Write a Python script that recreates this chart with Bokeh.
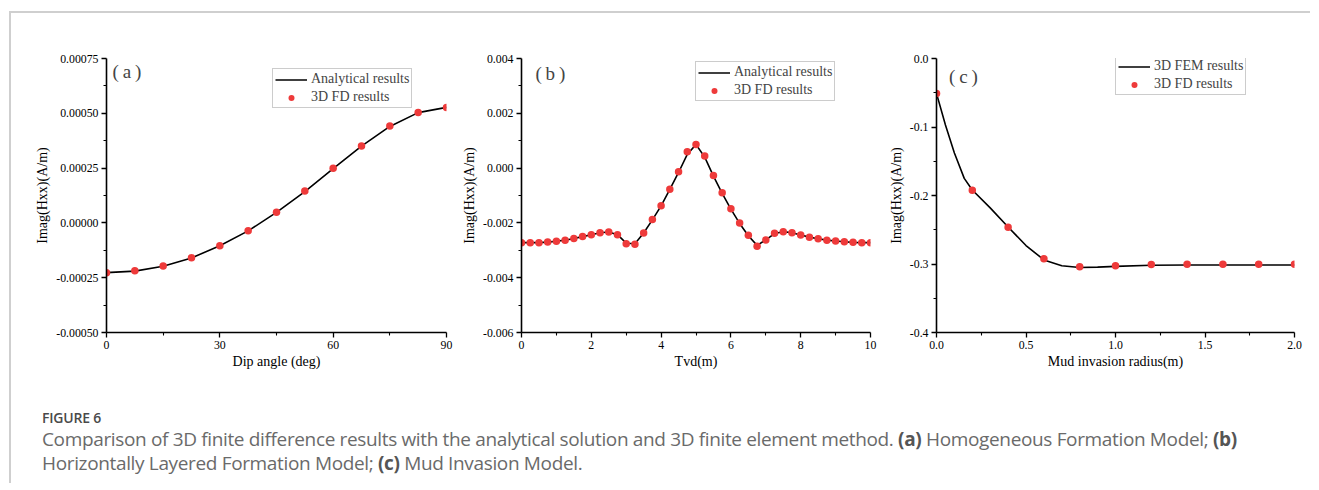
from bokeh.plotting import figure
from bokeh.layouts import row, column
from bokeh.models import (Range1d, FixedTicker, PrintfTickFormatter, Label, Legend,
                          LegendItem, Div)
from bokeh.embed import file_html
from bokeh.resources import INLINE

# ---------------- data ----------------
# (a) Homogeneous formation
dip_fd = [0, 7.5, 15, 22.5, 30, 37.5, 45, 52.5, 60, 67.5, 75, 82.5, 90]
hxx_a_fd = [-0.000227, -0.000218, -0.000197, -0.000159, -0.000104, -0.0000358,
            0.0000491, 0.000145, 0.000249, 0.000351, 0.000442, 0.000504, 0.000527]
dip_an = [0, 7.5, 15, 22.5, 30, 37.5, 45, 52.5, 60, 67.5, 75, 82.5, 90]
hxx_a_an = [-0.000227, -0.000220, -0.000198, -0.000160, -0.000104, -0.0000365,
            0.0000480, 0.000143, 0.000248, 0.000350, 0.000440, 0.000503, 0.000527]

# (b) Horizontally layered formation
tvd = [0, 0.25, 0.5, 0.75, 1.0, 1.25, 1.5, 1.75, 2.0, 2.25, 2.5, 2.75, 3.0, 3.25,
       3.5, 3.75, 4.0, 4.25, 4.5, 4.75, 5.0, 5.25, 5.5, 5.75, 6.0, 6.25, 6.5, 6.75,
       7.0, 7.25, 7.5, 7.75, 8.0, 8.25, 8.5, 8.75, 9.0, 9.25, 9.5, 9.75, 10.0]
hxx_b_fd = [-0.00272, -0.00272, -0.00272, -0.00270, -0.00267, -0.00263, -0.00257,
            -0.00250, -0.00243, -0.00236, -0.00233, -0.00243, -0.00276, -0.00278,
            -0.00237, -0.00188, -0.00137, -0.00077, -0.00013, 0.00060, 0.00086,
            0.00044, -0.00027, -0.00090, -0.00148, -0.00200, -0.00245, -0.00285,
            -0.00262, -0.00238, -0.00232, -0.00236, -0.00244, -0.00252, -0.00258,
            -0.00263, -0.00266, -0.00269, -0.00271, -0.00272, -0.00272]
hxx_b_an = [-0.00272, -0.00272, -0.00272, -0.00270, -0.00267, -0.00263, -0.00257,
            -0.00250, -0.00243, -0.00236, -0.00233, -0.00243, -0.00274, -0.00276,
            -0.00237, -0.00189, -0.00138, -0.00078, -0.00016, 0.00050, 0.00086,
            0.00040, -0.00029, -0.00092, -0.00150, -0.00202, -0.00247, -0.00282,
            -0.00262, -0.00239, -0.00232, -0.00236, -0.00244, -0.00252, -0.00258,
            -0.00263, -0.00266, -0.00269, -0.00271, -0.00272, -0.00272]

# (c) Mud invasion
radius_fd = [0.0, 0.2, 0.4, 0.6, 0.8, 1.0, 1.2, 1.4, 1.6, 1.8, 2.0]
hxx_c_fd = [-0.0510, -0.1922, -0.2464, -0.2924, -0.3039, -0.3025, -0.3007,
            -0.3002, -0.3002, -0.3002, -0.3002]
radius_fem = [0, 0.05, 0.1, 0.155, 0.2, 0.3, 0.4, 0.5, 0.6, 0.7, 0.8, 0.9, 1.0,
              1.2, 1.4, 1.6, 1.8, 2.0]
hxx_c_fem = [-0.051, -0.097, -0.138, -0.175, -0.192, -0.218, -0.246, -0.273,
             -0.294, -0.3025, -0.305, -0.3045, -0.3035, -0.3018, -0.3015, -0.3015,
             -0.3015, -0.3015]

a_xticks = [0, 30, 60, 90]
a_yticks = [-0.0005, -0.00025, 0.0, 0.00025, 0.0005, 0.00075]
b_xticks = [0, 2, 4, 6, 8, 10]
b_yticks = [-0.006, -0.004, -0.002, 0.0, 0.002, 0.004]
c_xticks = [0.0, 0.5, 1.0, 1.5, 2.0]
c_yticks = [-0.4, -0.3, -0.2, -0.1, 0.0]

SERIF = "Liberation Serif"
RED = "#ee3a3a"


def mids(t):
    return [(t[i] + t[i + 1]) / 2 for i in range(len(t) - 1)]


def make_panel(w, h, fl, fr, ft, fb, xr, yr, xt, yt, xfmt, yfmt):
    p = figure(width=w, height=h, output_backend="svg", toolbar_location=None,
               x_range=Range1d(*xr), y_range=Range1d(*yr),
               min_border_left=fl, min_border_right=fr,
               min_border_top=ft, min_border_bottom=fb)
    p.outline_line_color = None
    p.grid.visible = False
    p.background_fill_color = "white"
    p.border_fill_color = None
    p.xaxis.ticker = FixedTicker(ticks=xt, minor_ticks=mids(xt))
    p.yaxis.ticker = FixedTicker(ticks=yt, minor_ticks=mids(yt))
    p.xaxis.formatter = PrintfTickFormatter(format=xfmt)
    p.yaxis.formatter = PrintfTickFormatter(format=yfmt)
    for ax in (p.xaxis, p.yaxis):
        ax.axis_line_width = 1.6
        ax.axis_line_color = "black"
        ax.major_tick_in = 0
        ax.major_tick_out = 5
        ax.minor_tick_in = 0
        ax.minor_tick_out = 3
        ax.major_tick_line_width = 1.3
        ax.minor_tick_line_width = 1.1
        ax.major_label_text_font = SERIF
        ax.major_label_text_font_size = "11.8px"
        ax.major_label_text_color = "black"
        ax.axis_label_text_font = SERIF
        ax.axis_label_text_font_size = "14px"
        ax.axis_label_text_font_style = "normal"
        ax.axis_label_text_color = "black"
    p.xaxis.major_label_standoff = 3
    p.yaxis.major_label_standoff = 3
    p.xaxis.axis_label_standoff = 2
    p.yaxis.axis_label_standoff = 3
    return p


def add_legend(p, items, loc):
    lg = Legend(items=items, location=loc, label_text_font=SERIF,
                label_text_font_size="14px", glyph_width=32, glyph_height=15,
                label_height=15, spacing=2, padding=2, margin=0, label_standoff=4,
                border_line_color="#9a9a9a", border_line_width=1.2,
                background_fill_alpha=1.0)
    p.add_layout(lg)


def panel_label(p, txt, x, y):
    p.add_layout(Label(x=x, y=y, text=txt, text_font=SERIF, text_font_size="19px",
                       text_baseline="middle", text_align="left"))


# (a)
pa = make_panel(444, 372, 95, 9, 45, 53, (0, 90), (-0.0005, 0.00075),
                a_xticks, a_yticks, "%d", "%.5f")
pa.xaxis.axis_label = "Dip angle (deg)"
pa.yaxis.axis_label = "Imag(Hxx)(A/m)"
la = pa.line(dip_an, hxx_a_an, line_color="black", line_width=1.6)
sa = pa.scatter(dip_fd, hxx_a_fd, size=7.5, fill_color=RED, line_color=None)
add_legend(pa, [LegendItem(label="Analytical results", renderers=[la]),
                LegendItem(label="3D FD results", renderers=[sa])], (166, 224))
panel_label(pa, "(\u2009a\u2009)", 1.6, 0.00069)

# (b)
pb = make_panel(430, 372, 66, 15, 45, 45, (0, 10), (-0.006, 0.004),
                b_xticks, b_yticks, "%d", "%.3f")
pb.xaxis.axis_label = "Tvd(m)"
pb.yaxis.axis_label = "Imag(Hxx)(A/m)"
lb = pb.line(tvd, hxx_b_an, line_color="black", line_width=1.6)
sb = pb.scatter(tvd, hxx_b_fd, size=7.5, fill_color=RED, line_color=None)
add_legend(pb, [LegendItem(label="Analytical results", renderers=[lb]),
                LegendItem(label="3D FD results", renderers=[sb])], (174, 231))
panel_label(pb, "(\u2009b\u2009)", 0.4, 0.00345)

# (c)
pc = make_panel(425, 372, 51, 16, 37, 45, (0, 2.0), (-0.4, 0.0),
                c_xticks, c_yticks, "%.1f", "%.1f")
pc.xaxis.axis_label = "Mud invasion radius(m)"
pc.yaxis.axis_label = "Imag(Hxx)(A/m)"
lc = pc.line(radius_fem, hxx_c_fem, line_color="black", line_width=1.6)
sc = pc.scatter(radius_fd, hxx_c_fd, size=7.5, fill_color=RED, line_color=None)
add_legend(pc, [LegendItem(label="3D FEM results", renderers=[lc]),
                LegendItem(label="3D FD results", renderers=[sc])], (179, 237))
panel_label(pc, "(\u2009c\u2009)", 0.07, -0.0262)

caption = Div(
    text=('<div style="font-family:\'Open Sans\',sans-serif;">'
          '<div style="font-size:14px;line-height:19px;font-weight:600;color:#4a4a4a;letter-spacing:-0.2px;">FIGURE 6</div>'
          '<div style="font-size:19px;line-height:24px;color:#6a6a6a;letter-spacing:-0.35px;white-space:nowrap;">'
          'Comparison of 3D finite difference results with the analytical solution and 3D finite '
          'element method. <b style="color:#555;">(a)</b> Homogeneous Formation Model; <b style="color:#555;">(b)</b><br>'
          'Horizontally Layered Formation Model; <b style="color:#555;">(c)</b> Mud Invasion Model.</div></div>'),
    width=1260, height=70, styles={"margin-left": "31px", "margin-top": "23px"})

layout = column(row(pa, pb, pc), caption,
                styles={"border-top": "2px solid #cfcfcf", "border-left": "2px solid #cfcfcf",
                        "margin-top": "11px", "margin-left": "9px"})

open("out.html", "w").write(file_html(layout, INLINE))
